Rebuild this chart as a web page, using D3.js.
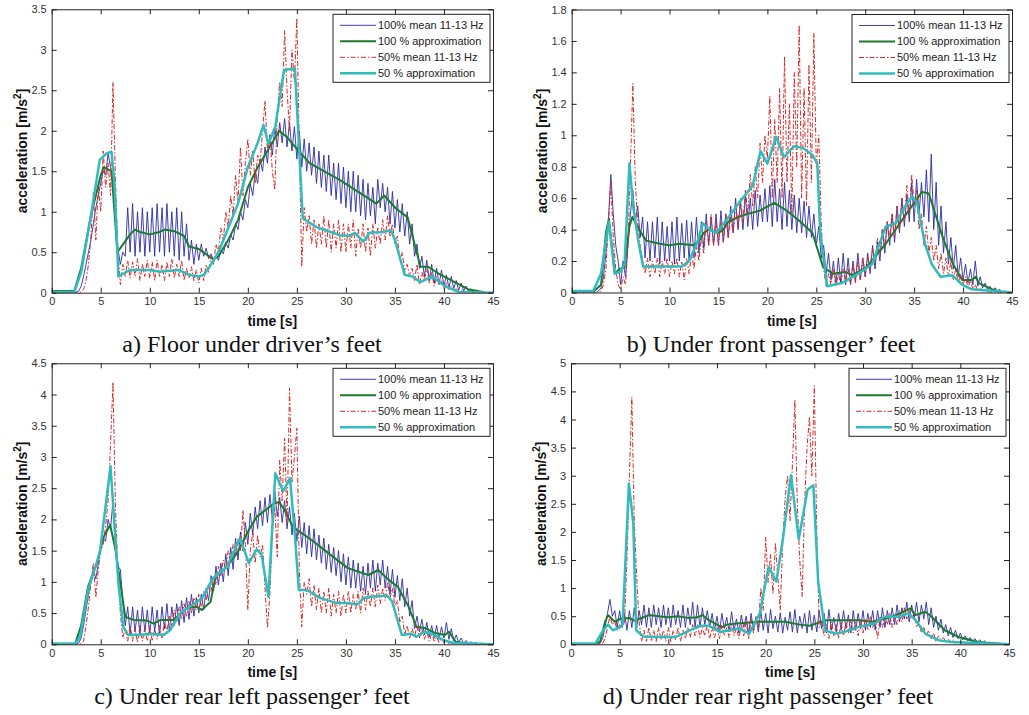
<!DOCTYPE html>
<html>
<head>
<meta charset="utf-8">
<script src="https://cdn.jsdelivr.net/npm/d3@7"></script>
<style>
  body { margin: 0; background: #fff; }
  svg { display: block; }
</style>
</head>
<body>
<svg id="fig" width="1029" height="715"></svg>
<script>
// ---- data -----------------------------------------------------------------
// Measured RMS series are sampled every 0.25 s from 0 to 45 s.
const SAMPLE_STEP = 0.25;

const timeTicks = [0, 5, 10, 15, 20, 25, 30, 35, 40, 45];
const aYTicks = [0, 0.5, 1, 1.5, 2, 2.5, 3, 3.5];
const bYTicks = [0, 0.2, 0.4, 0.6, 0.8, 1, 1.2, 1.4, 1.6, 1.8];
const cYTicks = [0, 0.5, 1, 1.5, 2, 2.5, 3, 3.5, 4, 4.5];
const dYTicks = [0, 0.5, 1, 1.5, 2, 2.5, 3, 3.5, 4, 4.5, 5];

const legendLabels = ['100% mean 11-13 Hz', '100 % approximation', '50% mean 11-13 Hz', '50 % approximation'];
const captions = [
  'a) Floor under driver\u2019s feet',
  'b) Under front passenger\u2019 feet',
  'c) Under rear left passenger\u2019 feet',
  'd) Under rear right passenger\u2019 feet'
];

// a) floor under driver's feet
const aMean100 = [
  0,0,0,0,0,0,0,0,0,0,0.01,0.02,0.08,0.2,0.35,0.5,0.65,0.85,1.05,1.2,
  1.35,1.5,1.45,1.72,1.55,1.35,0.95,0.55,0.35,0.5,0.45,1.05,0.5,1.1,0.45,1.0,0.5,1.05,0.45,1.0,
  0.5,1.05,0.45,1.1,0.5,1.05,0.45,1.1,0.5,1.0,0.45,1.05,0.4,1.0,0.45,0.85,0.4,0.65,0.35,0.6,
  0.4,0.6,0.45,0.55,0.42,0.48,0.4,0.45,0.4,0.52,0.48,0.62,0.55,0.72,0.65,0.85,0.78,1.0,0.9,1.15,
  1.05,1.35,1.2,1.5,1.35,1.65,1.5,1.8,1.6,1.95,1.7,2.05,1.8,2.1,1.85,2.15,1.8,2.1,1.75,2.05,
  1.65,2.0,1.55,1.9,1.5,1.85,1.45,1.8,1.35,1.75,1.3,1.7,1.25,1.7,1.2,1.6,1.15,1.6,1.1,1.55,
  1.05,1.5,1.0,1.5,1.0,1.45,0.95,1.4,0.9,1.35,0.95,1.3,0.85,1.4,1.05,1.35,1.0,1.3,0.85,1.25,
  0.8,1.15,0.75,1.1,0.7,1.0,0.6,0.85,0.45,0.6,0.3,0.45,0.2,0.4,0.15,0.35,0.12,0.3,0.1,0.28,
  0.08,0.22,0.06,0.2,0.05,0.15,0.03,0.12,0.02,0.08,0.02,0.05,0.01,0.03,0.01,0.02,0.01,0,0,0,
  0
];
const aMean50 = [
  0,0,0,0,0,0,0,0,0,0,0,0,0.01,0.04,0.15,0.35,0.7,1.25,0.65,1.3,
  1.0,1.75,1.3,1.6,1.2,2.6,1.4,0.5,0.1,0.35,0.2,0.4,0.18,0.38,0.2,0.42,0.15,0.35,0.2,0.4,
  0.18,0.38,0.15,0.4,0.2,0.35,0.15,0.38,0.2,0.42,0.18,0.35,0.2,0.4,0.15,0.3,0.18,0.32,0.15,0.28,
  0.12,0.3,0.15,0.35,0.25,0.45,0.35,0.6,0.5,0.8,0.65,1.0,0.8,1.2,0.95,1.45,1.1,1.8,1.2,1.6,
  1.9,1.45,1.75,1.35,1.7,1.6,2.0,2.37,1.75,1.95,1.5,1.27,2.2,2.6,2.3,3.24,2.5,2.0,3.0,2.6,
  3.39,1.8,0.32,1.05,0.75,0.95,0.6,0.9,0.55,0.85,0.6,0.95,0.55,0.9,0.5,0.85,0.55,0.9,0.5,0.85,
  0.5,0.85,0.55,0.9,0.45,0.8,0.55,0.85,0.5,0.8,0.45,0.85,0.55,0.8,0.6,0.9,0.65,0.95,0.7,0.85,
  0.6,0.7,0.4,0.5,0.25,0.35,0.2,0.3,0.15,0.35,0.1,0.25,0.15,0.3,0.12,0.25,0.08,0.2,0.1,0.15,
  0.05,0.12,0.04,0.08,0.02,0.05,0.01,0.03,0.01,0.02,0,0,0,0,0,0,0,0,0,0,
  0
];
const aApprox100 = [[0,0.02],[2.3,0.02],[3,0.3],[4,0.95],[5,1.45],[5.3,1.55],[6.1,1.5],[6.7,0.5],[7,0.55],[8,0.72],
  [8.5,0.78],[9,0.75],[10,0.72],[11,0.75],[11.5,0.78],[12.5,0.76],[13.5,0.7],[14,0.57],[15,0.54],[16.5,0.41],
  [17,0.45],[18,0.65],[19,0.9],[20,1.3],[21,1.55],[22,1.75],[23.2,2.0],[24,1.92],[25.1,1.76],[26.3,1.6],
  [29.4,1.39],[32.1,1.18],[33.1,1.1],[33.9,1.2],[35.1,1.04],[36.3,0.93],[37.6,0.32],[38.4,0.32],[39.4,0.24],
  [41.1,0.13],[42.5,0.04],[43.5,0.02],[44,0]];
const aApprox50 = [[0,0.01],[2.3,0.01],[3,0.25],[4,0.95],[4.9,1.64],[5.6,1.72],[6.1,1.74],[6.4,1.35],[6.8,0.2],[7.5,0.25],
  [8,0.28],[10,0.28],[11,0.26],[12,0.27],[13,0.28],[14,0.22],[15,0.2],[15.5,0.22],[16,0.3],[17,0.5],
  [18,0.8],[19,1.1],[20,1.55],[21,1.85],[21.6,2.07],[22.1,1.84],[22.8,2.05],[23.3,2.45],[23.7,2.75],[24.8,2.77],
  [25.6,0.92],[27,0.81],[29.4,0.71],[30.4,0.7],[30.9,0.74],[31.8,0.63],[32.4,0.74],[33.8,0.75],[34.6,0.77],[35,0.65],
  [36,0.22],[36.8,0.2],[37.6,0.13],[38.8,0.2],[40.1,0.08],[41.5,0.01],[45,0]];

// b) under front passenger's feet
const bMean100 = [
  0,0,0,0,0,0,0,0,0,0,0,0.01,0.03,0.1,0.25,0.45,0.75,0.5,0.3,0.2,
  0.05,0.2,0.1,0.3,0.5,0.65,0.45,0.55,0.35,0.48,0.22,0.45,0.2,0.45,0.22,0.48,0.18,0.45,0.2,0.42,
  0.2,0.45,0.18,0.48,0.2,0.44,0.22,0.46,0.2,0.45,0.22,0.48,0.25,0.45,0.28,0.5,0.3,0.48,0.3,0.5,
  0.3,0.52,0.32,0.5,0.35,0.55,0.38,0.6,0.4,0.58,0.4,0.62,0.42,0.6,0.4,0.65,0.42,0.62,0.45,0.66,
  0.45,0.68,0.42,0.72,0.45,0.66,0.4,0.7,0.42,0.65,0.4,0.62,0.38,0.6,0.38,0.58,0.35,0.55,0.35,0.5,
  0.3,0.42,0.22,0.3,0.12,0.25,0.08,0.2,0.05,0.22,0.06,0.25,0.05,0.22,0.05,0.2,0.07,0.25,0.08,0.22,
  0.1,0.25,0.12,0.3,0.15,0.32,0.2,0.4,0.25,0.45,0.3,0.5,0.32,0.55,0.38,0.6,0.42,0.62,0.45,0.7,
  0.45,0.72,0.5,0.7,0.48,0.78,0.45,0.88,0.4,0.7,0.3,0.55,0.25,0.45,0.18,0.35,0.15,0.3,0.1,0.22,
  0.08,0.18,0.06,0.15,0.05,0.2,0.04,0.1,0.03,0.06,0.02,0.04,0.01,0.03,0.01,0.02,0,0.01,0,0,
  0
];
const bMean50 = [
  0,0,0,0,0,0,0,0,0,0,0,0,0.01,0.05,0.15,0.45,0.7,0.35,0.15,0.05,
  0.02,0.1,0.05,0.3,0.8,1.33,0.7,0.45,0.3,0.2,0.12,0.22,0.1,0.2,0.12,0.22,0.1,0.2,0.12,0.22,
  0.1,0.2,0.12,0.22,0.1,0.2,0.08,0.22,0.12,0.25,0.15,0.3,0.2,0.35,0.25,0.45,0.3,0.5,0.3,0.45,
  0.3,0.45,0.32,0.5,0.35,0.48,0.38,0.55,0.42,0.6,0.45,0.65,0.5,0.75,0.55,0.8,0.6,0.95,0.7,1.0,
  0.85,1.25,0.6,1.1,0.7,1.3,0.6,1.5,0.7,1.2,0.5,1.4,0.8,1.7,0.6,1.3,0.55,1.45,0.7,1.65,
  0.8,1.0,0.45,0.15,0.04,0.12,0.05,0.15,0.04,0.12,0.05,0.15,0.06,0.15,0.05,0.18,0.06,0.2,0.08,0.22,
  0.1,0.22,0.15,0.28,0.2,0.35,0.25,0.4,0.3,0.45,0.35,0.5,0.35,0.55,0.4,0.6,0.45,0.68,0.5,0.75,
  0.55,0.65,0.4,0.5,0.3,0.42,0.25,0.35,0.2,0.3,0.15,0.25,0.12,0.22,0.1,0.2,0.08,0.15,0.06,0.12,
  0.05,0.1,0.03,0.08,0.02,0.05,0.01,0.03,0.01,0.02,0,0,0,0,0,0,0,0,0,0,
  0
];
const bApprox100 = [[0,0.01],[2.3,0.01],[3,0.05],[3.5,0.38],[3.8,0.47],[4.4,0.12],[4.9,0.15],[5.4,0.16],[5.9,0.42],[6.2,0.48],
  [6.9,0.4],[7.6,0.33],[9,0.31],[10,0.3],[11,0.31],[12.5,0.3],[13,0.33],[13.5,0.38],[14,0.4],[15,0.38],
  [15.5,0.4],[16,0.45],[17,0.48],[18,0.5],[19.2,0.52],[20.7,0.57],[22,0.52],[23.2,0.46],[24.6,0.38],[25.7,0.16],
  [26.7,0.12],[28,0.13],[28.7,0.11],[30.1,0.16],[32.1,0.31],[34.2,0.5],[35.8,0.64],[36.5,0.63],[37.9,0.355],[38.9,0.19],
  [39.9,0.08],[40.9,0.08],[41.3,0.1],[41.6,0.06],[43,0.02],[44,0]];
const bApprox50 = [[0,0.01],[2.2,0.01],[3,0.12],[3.8,0.45],[4.4,0.12],[4.9,0.13],[5.4,0.18],[5.9,0.82],[6.3,0.54],[6.8,0.33],
  [7.3,0.165],[11.3,0.165],[12,0.2],[12.9,0.33],[13.4,0.44],[14.1,0.4],[14.8,0.38],[15.8,0.46],[17.1,0.57],[18.5,0.68],
  [19.3,0.9],[20,0.82],[20.9,0.99],[21.7,0.86],[22.7,0.93],[23.6,0.92],[24.6,0.875],[25.1,0.82],[25.4,0.38],[26.1,0.04],
  [27.6,0.06],[29.3,0.12],[30.7,0.18],[32.1,0.42],[33.1,0.44],[34.1,0.55],[34.8,0.61],[35.3,0.57],[36.1,0.31],[36.8,0.18],
  [37.7,0.1],[38.9,0.11],[39.9,0.05],[40.9,0.02],[45,0]];

// c) under rear left passenger's feet
const cMean100 = [
  0,0,0,0,0,0,0,0,0,0,0,0.02,0.1,0.3,0.55,0.8,1.0,1.2,1.05,1.3,
  1.55,1.7,1.65,2.0,1.85,2.3,1.5,1.25,1.2,0.7,0.3,0.6,0.15,0.6,0.2,0.55,0.15,0.6,0.2,0.55,
  0.15,0.6,0.2,0.55,0.15,0.6,0.25,0.65,0.2,0.6,0.3,0.65,0.3,0.7,0.35,0.75,0.4,0.8,0.45,0.75,
  0.5,0.8,0.55,0.9,0.7,1.1,0.85,1.25,0.95,1.3,1.0,1.45,1.1,1.55,1.2,1.7,1.35,1.8,1.5,1.95,
  1.6,2.1,1.75,2.2,1.85,2.3,1.9,2.35,1.95,2.4,2.0,2.45,2.05,2.35,1.95,2.3,1.85,2.2,1.75,2.1,
  1.65,2.05,1.55,1.95,1.45,1.9,1.4,1.85,1.35,1.75,1.3,1.7,1.2,1.6,1.15,1.55,1.1,1.5,1.0,1.45,
  0.95,1.4,0.9,1.35,0.9,1.3,0.85,1.25,0.8,1.3,0.9,1.35,0.85,1.3,0.95,1.35,0.9,1.25,0.8,1.2,
  0.75,1.1,0.7,1.05,0.6,0.9,0.45,0.7,0.25,0.45,0.2,0.4,0.15,0.35,0.12,0.3,0.1,0.3,0.08,0.28,
  0.1,0.35,0.08,0.25,0.05,0.15,0.03,0.1,0.02,0.06,0.01,0.04,0.01,0.03,0,0.02,0,0.01,0,0,
  0
];
const cMean50 = [
  0,0,0,0,0,0,0,0,0,0,0,0,0.01,0.05,0.3,0.6,1.0,1.3,0.75,1.2,
  1.5,1.6,1.9,2.3,3.2,4.2,2.2,1.2,0.5,0.1,0.25,0.05,0.3,0.05,0.25,0.03,0.3,0.05,0.28,0.05,
  0.3,0.05,0.25,0.08,0.3,0.1,0.35,0.2,0.45,0.3,0.55,0.35,0.6,0.4,0.65,0.45,0.7,0.5,0.75,0.55,
  0.8,0.6,0.85,0.7,0.95,0.85,1.1,0.95,1.25,1.1,1.35,1.2,1.5,1.3,1.6,1.45,1.7,1.5,2.15,1.6,
  0.55,1.5,1.8,1.3,1.75,1.4,1.6,0.9,0.26,0.8,1.8,2.2,1.4,2.95,2.3,3.3,1.94,4.1,2.6,3.0,
  3.46,1.2,0.28,1.0,0.8,1.05,0.6,0.95,0.55,0.9,0.5,0.85,0.5,0.9,0.45,0.8,0.5,0.85,0.45,0.8,
  0.5,0.85,0.5,0.8,0.55,0.85,0.5,0.9,0.55,0.85,0.6,0.9,0.6,0.95,0.65,0.9,0.7,1.0,0.75,0.9,
  0.6,0.7,0.35,0.45,0.15,0.3,0.1,0.25,0.12,0.3,0.1,0.25,0.08,0.2,0.05,0.18,0.05,0.12,0.03,0.1,
  0.02,0.08,0.01,0.05,0.01,0.03,0,0.02,0,0.01,0,0,0,0,0,0,0,0,0,0,
  0
];
const cApprox100 = [[0,0.01],[2.4,0.01],[3,0.3],[3.7,0.92],[4.6,1.3],[5.3,1.72],[5.96,1.91],[6.5,1.52],[7.0,0.98],[7.5,0.44],
  [8.4,0.39],[9.7,0.38],[10.4,0.33],[11.1,0.39],[12.4,0.39],[13.8,0.58],[14.8,0.6],[15.3,0.55],[16.2,0.68],[16.7,1.08],
  [17.9,1.25],[18.9,1.46],[20.1,1.83],[20.9,2.04],[22.7,2.26],[23.2,2.28],[23.7,2.16],[24.6,1.88],[26.5,1.67],[28.2,1.46],
  [30.2,1.22],[32.3,1.11],[33.3,1.19],[34.3,1.04],[35.3,0.92],[36.4,0.6],[37.2,0.28],[38.1,0.26],[39.1,0.18],[40.1,0.15],
  [40.5,0.2],[41.2,0.04],[42.5,0.01],[45,0]];
const cApprox50 = [[0,0.01],[2.4,0.01],[2.9,0.12],[3.7,0.87],[4.9,1.46],[6.0,2.85],[6.8,0.98],[7.3,0.28],[7.8,0.15],[9.0,0.15],
  [10.1,0.17],[11.4,0.15],[12.1,0.23],[13.1,0.5],[14.5,0.65],[15.3,0.73],[16.4,1.05],[17.9,1.25],[18.8,1.56],[19.2,1.7],
  [20.1,1.3],[20.9,1.52],[21.4,1.44],[22.1,0.76],[22.8,2.74],[23.6,2.45],[24.3,2.66],[24.8,1.75],[25.2,0.87],[26,0.87],
  [27.4,0.74],[29.1,0.66],[30.1,0.66],[31.2,0.64],[31.8,0.74],[32.5,0.76],[34.2,0.78],[34.7,0.69],[35.7,0.15],[36.6,0.17],
  [37.2,0.12],[38,0.2],[38.9,0.16],[39.9,0.07],[40.9,0.02],[45,0]];

// d) under rear right passenger's feet
const dMean100 = [
  0,0,0,0,0,0,0,0,0,0,0,0,0.02,0.1,0.3,0.55,0.8,0.5,0.6,0.3,
  0.6,0.3,0.55,0.25,0.6,0.3,0.65,0.3,0.6,0.35,0.7,0.3,0.65,0.3,0.7,0.35,0.65,0.3,0.7,0.35,
  0.65,0.3,0.7,0.35,0.6,0.3,0.7,0.3,0.65,0.35,0.75,0.3,0.7,0.3,0.65,0.35,0.6,0.3,0.55,0.25,
  0.5,0.2,0.55,0.28,0.48,0.22,0.58,0.25,0.45,0.2,0.52,0.3,0.5,0.18,0.55,0.25,0.48,0.22,0.6,0.25,
  0.55,0.2,0.62,0.28,0.5,0.22,0.56,0.2,0.48,0.25,0.58,0.22,0.62,0.2,0.5,0.28,0.55,0.2,0.6,0.25,
  0.52,0.22,0.6,0.28,0.55,0.2,0.62,0.25,0.48,0.22,0.55,0.25,0.6,0.28,0.52,0.2,0.6,0.25,0.55,0.28,
  0.6,0.25,0.55,0.3,0.6,0.25,0.6,0.3,0.65,0.3,0.6,0.35,0.65,0.35,0.7,0.4,0.65,0.45,0.75,0.4,
  0.7,0.45,0.75,0.4,0.7,0.45,0.75,0.35,0.65,0.3,0.5,0.25,0.45,0.2,0.35,0.15,0.3,0.12,0.25,0.1,
  0.2,0.08,0.15,0.06,0.12,0.05,0.1,0.04,0.08,0.03,0.06,0.02,0.04,0.02,0.03,0.01,0.02,0,0,0,
  0
];
const dMean50 = [
  0,0,0,0,0,0,0,0,0,0,0,0,0,0.02,0.1,0.3,0.5,0.35,0.4,0.25,
  0.35,0.3,0.4,1.5,3.0,4.4,2.2,1.2,0.4,0.05,0.25,0.05,0.3,0.05,0.25,0.05,0.3,0.08,0.25,0.05,
  0.3,0.05,0.25,0.08,0.3,0.05,0.25,0.1,0.3,0.12,0.35,0.15,0.35,0.12,0.3,0.15,0.35,0.1,0.3,0.12,
  0.3,0.1,0.35,0.15,0.3,0.12,0.35,0.15,0.3,0.1,0.35,0.15,0.4,0.1,0.45,0.2,0.5,0.3,1.0,0.6,
  1.91,1.1,1.6,0.9,1.8,1.2,0.61,1.8,2.6,3.0,2.2,3.2,4.35,2.5,1.5,0.85,2.5,3.5,4.05,3.0,
  4.6,2.0,0.3,0.4,0.15,0.35,0.1,0.4,0.15,0.35,0.1,0.4,0.15,0.4,0.2,0.45,0.2,0.4,0.15,0.45,
  0.2,0.45,0.25,0.5,0.3,0.45,0.1,0.5,0.3,0.5,0.35,0.55,0.3,0.5,0.35,0.6,0.4,0.65,0.45,0.6,
  0.45,0.55,0.3,0.4,0.2,0.3,0.15,0.25,0.1,0.2,0.05,0.15,0.08,0.12,0.05,0.1,0.03,0.08,0.02,0.05,
  0.02,0.04,0.01,0.03,0.01,0.02,0,0.01,0,0,0,0,0,0,0,0,0,0,0,0,
  0
];
const dApprox100 = [[0,0.01],[2.5,0.01],[3,0.05],[3.5,0.4],[3.8,0.52],[4.5,0.4],[5,0.45],[6,0.47],[6.5,0.42],[7,0.45],
  [8,0.52],[9,0.5],[10,0.48],[11,0.5],[12,0.47],[13,0.48],[13.5,0.52],[14,0.45],[15,0.35],[15.5,0.3],
  [16,0.35],[17,0.37],[19.4,0.4],[22,0.4],[23.5,0.35],[24.5,0.33],[26.2,0.43],[29.6,0.43],[31,0.4],[33,0.49],
  [34.9,0.64],[35.4,0.52],[36.4,0.58],[37,0.5],[38.4,0.25],[39.8,0.13],[41.8,0.04],[43.1,0.02],[45,0]];
const dApprox50 = [[0,0.01],[2.5,0.01],[3.3,0.25],[3.8,0.35],[4.3,0.25],[5.0,0.3],[5.3,0.35],[5.95,2.86],[6.4,2.15],[6.7,0.25],
  [7.4,0.14],[9.1,0.13],[10.8,0.13],[11.9,0.22],[13.2,0.33],[14.2,0.33],[15.3,0.22],[16.3,0.25],[17.3,0.28],[18.3,0.19],
  [19.4,0.55],[20.3,1.38],[21.1,1.12],[21.8,1.91],[22.6,3.01],[23.4,1.87],[24.3,2.75],[24.9,2.83],[25.4,1.1],[26.1,0.25],
  [27.1,0.19],[28.1,0.22],[29.5,0.31],[31.2,0.37],[32.2,0.49],[33.6,0.49],[34.7,0.55],[35.4,0.43],[36.4,0.19],[37.8,0.07],
  [39.1,0.04],[45,0]];

// ---- layout & style -------------------------------------------------------
const panels = [
  { id: 'a', box: { left: 51.7, right: 493, top: 9.3, bottom: 292.7 }, yTicks: aYTicks,
    series: [aMean100, aApprox100, aMean50, aApprox50], caption: captions[0], captionX: 252, captionY: 352 },
  { id: 'b', box: { left: 571.7, right: 1012, top: 9.5, bottom: 292.5 }, yTicks: bYTicks,
    series: [bMean100, bApprox100, bMean50, bApprox50], caption: captions[1], captionX: 771, captionY: 352 },
  { id: 'c', box: { left: 51.7, right: 493, top: 363.3, bottom: 644.3 }, yTicks: cYTicks,
    series: [cMean100, cApprox100, cMean50, cApprox50], caption: captions[2], captionX: 252, captionY: 704 },
  { id: 'd', box: { left: 571, right: 1009, top: 363.3, bottom: 644.3 }, yTicks: dYTicks,
    series: [dMean100, dApprox100, dMean50, dApprox50], caption: captions[3], captionX: 768, captionY: 704 }
];

// raw series are evenly sampled; approximations are given as [t, value] knots
const seriesStyles = [
  { sampled: true,  color: '#2a2aa6', width: 0.9, dash: null },
  { sampled: false, color: '#1c7a2c', width: 2,   dash: null },
  { sampled: true,  color: '#d42828', width: 1,   dash: '5,2,1.5,2' },
  { sampled: false, color: '#30bcbc', width: 2.5, dash: null }
];

const SANS = '"Liberation Sans", Arial, Helvetica, sans-serif';
const SERIF = '"Liberation Serif", "Times New Roman", Times, serif';
const fmt = v => String(+v.toFixed(2));

const svg = d3.select('#fig');
svg.append('rect').attr('width', 1029).attr('height', 715).attr('fill', '#fff');

panels.forEach(p => {
  const { left, right, top, bottom } = p.box;
  const x = d3.scaleLinear().domain([0, 45]).range([left, right]);
  const y = d3.scaleLinear().domain([0, p.yTicks[p.yTicks.length - 1]]).range([bottom, top]);
  const g = svg.append('g').attr('class', 'panel-' + p.id);

  g.append('clipPath').attr('id', 'clip-' + p.id)
    .append('rect').attr('x', left).attr('y', top).attr('width', right - left).attr('height', bottom - top);

  const line = d3.line().x(d => x(d[0])).y(d => y(d[1]));
  const plot = g.append('g').attr('clip-path', `url(#clip-${p.id})`);

  p.series.forEach((values, k) => {
    const st = seriesStyles[k];
    const pts = st.sampled ? values.map((v, i) => [i * SAMPLE_STEP, v]) : values;
    plot.append('path')
      .attr('d', line(pts))
      .attr('fill', 'none')
      .attr('stroke', st.color)
      .attr('stroke-width', st.width)
      .attr('stroke-linejoin', 'round')
      .attr('stroke-dasharray', st.dash);
  });

  // Frame with inward ticks on all four sides
  const styleAxis = sel => {
    sel.selectAll('.domain').attr('stroke', '#222').attr('stroke-width', 1);
    sel.selectAll('.tick line').attr('stroke', '#222');
    sel.selectAll('.tick text').attr('fill', '#333').style('font-family', SANS).style('font-size', '11px');
  };
  g.append('g').attr('transform', `translate(0,${bottom})`)
    .call(d3.axisBottom(x).tickValues(timeTicks).tickFormat(fmt).tickSizeInner(-5).tickSizeOuter(0).tickPadding(5))
    .call(styleAxis);
  g.append('g').attr('transform', `translate(0,${top})`)
    .call(d3.axisTop(x).tickValues(timeTicks).tickFormat('').tickSizeInner(-5).tickSizeOuter(0))
    .call(styleAxis);
  g.append('g').attr('transform', `translate(${left},0)`)
    .call(d3.axisLeft(y).tickValues(p.yTicks).tickFormat(fmt).tickSizeInner(-5).tickSizeOuter(0).tickPadding(5))
    .call(styleAxis);
  g.append('g').attr('transform', `translate(${right},0)`)
    .call(d3.axisRight(y).tickValues(p.yTicks).tickFormat('').tickSizeInner(-5).tickSizeOuter(0))
    .call(styleAxis);
  g.selectAll('.tick text').attr('font-family', null);

  // Axis titles
  g.append('text')
    .attr('x', (left + right) / 2).attr('y', bottom + 33)
    .attr('text-anchor', 'middle')
    .style('font-family', SANS).style('font-size', '14px').style('font-weight', 'bold').attr('fill', '#111')
    .text('time [s]');
  const yTitle = g.append('text')
    .attr('transform', `translate(${left - 25},${(top + bottom) / 2}) rotate(-90)`)
    .attr('text-anchor', 'middle')
    .style('font-family', SANS).style('font-size', '14px').style('font-weight', 'bold').attr('fill', '#111');
  yTitle.append('tspan').text('acceleration [m/s');
  yTitle.append('tspan').attr('dy', -6).style('font-size', '10px').text('2');
  yTitle.append('tspan').attr('dy', 6).text(']');

  // Legend
  const lw = 157, lh = 68;
  const lg = g.append('g').attr('transform', `translate(${right - lw - 3},${top + 5})`);
  lg.append('rect').attr('width', lw).attr('height', lh).attr('fill', '#fff').attr('stroke', '#222').attr('stroke-width', 1);
  legendLabels.forEach((label, k) => {
    const st = seriesStyles[k];
    const ry = 11 + k * 16;
    lg.append('line').attr('x1', 7).attr('x2', 43).attr('y1', ry).attr('y2', ry)
      .attr('stroke', st.color).attr('stroke-width', st.width).attr('stroke-dasharray', st.dash);
    lg.append('text').attr('x', 45).attr('y', ry).attr('dy', '0.35em')
      .style('font-family', SANS).style('font-size', '11px').attr('fill', '#222')
      .text(label);
  });

  // Caption
  svg.append('text')
    .attr('x', p.captionX).attr('y', p.captionY)
    .attr('text-anchor', 'middle')
    .style('font-family', SERIF).style('font-size', '24px').attr('fill', '#111')
    .text(p.caption);
});
</script>
</body>
</html>
